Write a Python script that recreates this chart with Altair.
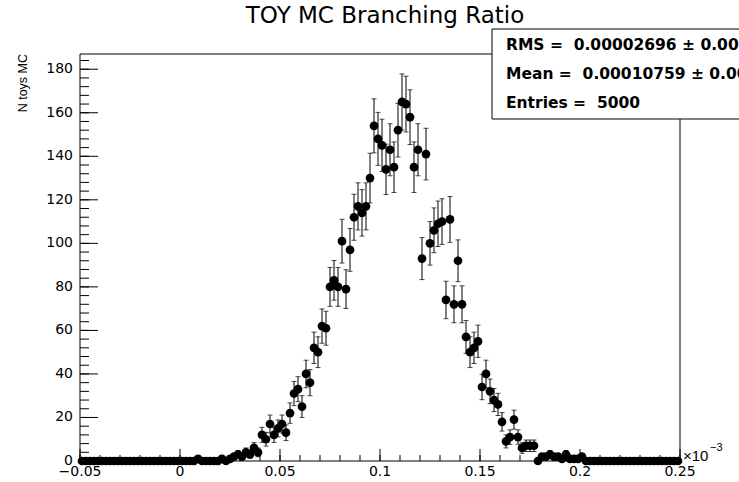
import altair as alt
import numpy as np
import pandas as pd

# Histogram of toy MC branching-ratio results (axis in units of 1e-3), 150 bins of 0.002
x_lo = -0.05
bin_width = 0.002
counts = [
    0, 0, 0, 0, 0, 0, 0, 0, 0, 0,
    0, 0, 0, 0, 0, 0, 0, 0, 0, 0,
    0, 0, 0, 0, 0, 0, 0, 0, 0, 1,
    0, 0, 0, 0, 0, 1, 0, 1, 2, 3,
    2, 4, 3, 6, 4, 12, 10, 17, 12, 15,
    17, 13, 22, 31, 33, 25, 40, 36, 52, 50,
    62, 61, 80, 83, 80, 101, 79, 97, 112, 117,
    114, 117, 130, 154, 148, 145, 134, 143, 135, 152,
    165, 164, 158, 135, 143, 93, 141, 100, 106, 109,
    110, 74, 111, 72, 92, 72, 57, 50, 52, 55,
    34, 40, 32, 28, 26, 18, 9, 11, 19, 11,
    6, 7, 7, 7, 0, 2, 2, 3, 2, 2,
    1, 3, 1, 1, 1, 2, 0, 0, 0, 0,
    0, 0, 0, 0, 0, 0, 0, 0, 0, 0,
    0, 0, 0, 0, 0, 0, 0, 0, 0, 0,
]

# Axis ticks and their labels
x_major = [-0.05, 0.0, 0.05, 0.1, 0.15, 0.2, 0.25]
x_labels = ["\u22120.05", "0", "0.05", "0.1", "0.15", "0.2", "0.25"]
x_minor = [round(x_lo + 0.01 * k, 3) for k in range(31)]
y_major = [0, 20, 40, 60, 80, 100, 120, 140, 160, 180]
y_labels = [str(v) for v in y_major]
y_minor = list(range(0, 188, 4))

title_text = "TOY MC Branching Ratio"
y_title = "N toys MC"
stats_lines = [
    "RMS =\u00a0 0.00002696 \u00b1 0.00000027",
    "Mean =\u00a0 0.00010759 \u00b1 0.00000038",
    "Entries =\u00a0 5000",
]

W, H = 600, 407
FONT = "DejaVu Sans"

centers = x_lo + bin_width * (np.arange(len(counts)) + 0.5)
df = pd.DataFrame({"br": centers, "n": counts})
df["err"] = np.sqrt(df["n"])
df["lo"] = df["n"] - df["err"]
df["hi"] = df["n"] + df["err"]
err_df = df[df["n"] > 0]

xscale = alt.Scale(domain=[-0.05, 0.25], nice=False, zero=False)
yscale = alt.Scale(domain=[0, 187], nice=False, zero=True)


def X(field):
    return alt.X(field, type="quantitative", scale=xscale, axis=None)


def Y(field):
    return alt.Y(field, type="quantitative", scale=yscale, axis=None)


one = pd.DataFrame({"k": [0]})


def frame_rule(**enc):
    return alt.Chart(one).mark_rule(color="black", strokeWidth=1).encode(**enc)


frame = [
    frame_rule(x=alt.value(0), x2=alt.value(W), y=alt.value(0)),
    frame_rule(x=alt.value(0), x2=alt.value(W), y=alt.value(H)),
    frame_rule(x=alt.value(0), y=alt.value(0), y2=alt.value(H)),
    frame_rule(x=alt.value(W), y=alt.value(0), y2=alt.value(H)),
]

ymaj_df = pd.DataFrame({"t": y_major, "lab": y_labels})
xmaj_df = pd.DataFrame({"t": x_major, "lab": x_labels})

y_major_ticks = alt.Chart(ymaj_df).mark_rule(color="black").encode(
    y=Y("t"), x=alt.value(0), x2=alt.value(18))
y_minor_ticks = alt.Chart(pd.DataFrame({"t": y_minor})).mark_rule(color="black").encode(
    y=Y("t"), x=alt.value(0), x2=alt.value(9))
x_major_ticks = alt.Chart(xmaj_df).mark_rule(color="black").encode(
    x=X("t"), y=alt.value(H), y2=alt.value(H - 12))
x_minor_ticks = alt.Chart(pd.DataFrame({"t": x_minor})).mark_rule(color="black").encode(
    x=X("t"), y=alt.value(H), y2=alt.value(H - 6))

y_tick_labels = alt.Chart(ymaj_df).mark_text(
    align="right", baseline="middle", font=FONT, fontSize=14, color="black").encode(
    y=Y("t"), x=alt.value(-7), text="lab:N")
x_tick_labels = alt.Chart(xmaj_df).mark_text(
    align="center", baseline="top", font=FONT, fontSize=14, color="black").encode(
    x=X("t"), y=alt.value(H + 4), text="lab:N")

bars = alt.Chart(err_df).mark_rule(color="black", strokeWidth=1).encode(
    x=X("br"), y=Y("lo"), y2="hi")
cap_hi = alt.Chart(err_df).mark_tick(orient="horizontal", size=5, thickness=1, color="black").encode(
    x=X("br"), y=Y("hi"))
cap_lo = alt.Chart(err_df).mark_tick(orient="horizontal", size=5, thickness=1, color="black").encode(
    x=X("br"), y=Y("lo"))

points = alt.Chart(df).mark_circle(size=76, color="black", opacity=1).encode(
    x=X("br"), y=Y("n"))

stats_box = alt.Chart(one).mark_rect(fill="white", stroke="black", strokeWidth=1).encode(
    x=alt.value(412), x2=alt.value(720), y=alt.value(-25), y2=alt.value(65))

stats_text = [
    alt.Chart(one).mark_text(align="left", baseline="middle", font=FONT, fontSize=15.5,
                             fontWeight="bold", color="black").encode(
        x=alt.value(426), y=alt.value(yy), text=alt.value(t))
    for t, yy in zip(stats_lines, [-9, 20, 49])
]

title = alt.Chart(one).mark_text(align="center", baseline="middle", font=FONT,
                                 fontSize=23, color="black").encode(
    x=alt.value(305), y=alt.value(-38), text=alt.value(title_text))

ytitle = alt.Chart(one).mark_text(align="right", baseline="middle", angle=270,
                                  font="Liberation Sans", fontSize=12.5, color="black").encode(
    x=alt.value(-57), y=alt.value(0), text=alt.value(y_title))

exp_base = alt.Chart(one).mark_text(align="left", baseline="middle", font="Liberation Sans",
                                    fontSize=15, color="black").encode(
    x=alt.value(603), y=alt.value(402), text=alt.value("\u00d710"))
exp_sup = alt.Chart(one).mark_text(align="left", baseline="middle", font="Liberation Sans",
                                   fontSize=11, color="black").encode(
    x=alt.value(630), y=alt.value(394), text=alt.value("\u22123"))

chart = alt.layer(
    *frame, y_major_ticks, y_minor_ticks, x_major_ticks, x_minor_ticks,
    bars, cap_hi, cap_lo, points, y_tick_labels, x_tick_labels,
    stats_box, *stats_text, title, ytitle, exp_base, exp_sup,
).properties(
    width=W, height=H, autosize="none",
    padding={"left": 80, "top": 54, "right": 59, "bottom": 21},
    background="white",
).configure_view(
    strokeWidth=0
)

chart.save("out.html", embed_options={"renderer": "svg", "actions": False})
